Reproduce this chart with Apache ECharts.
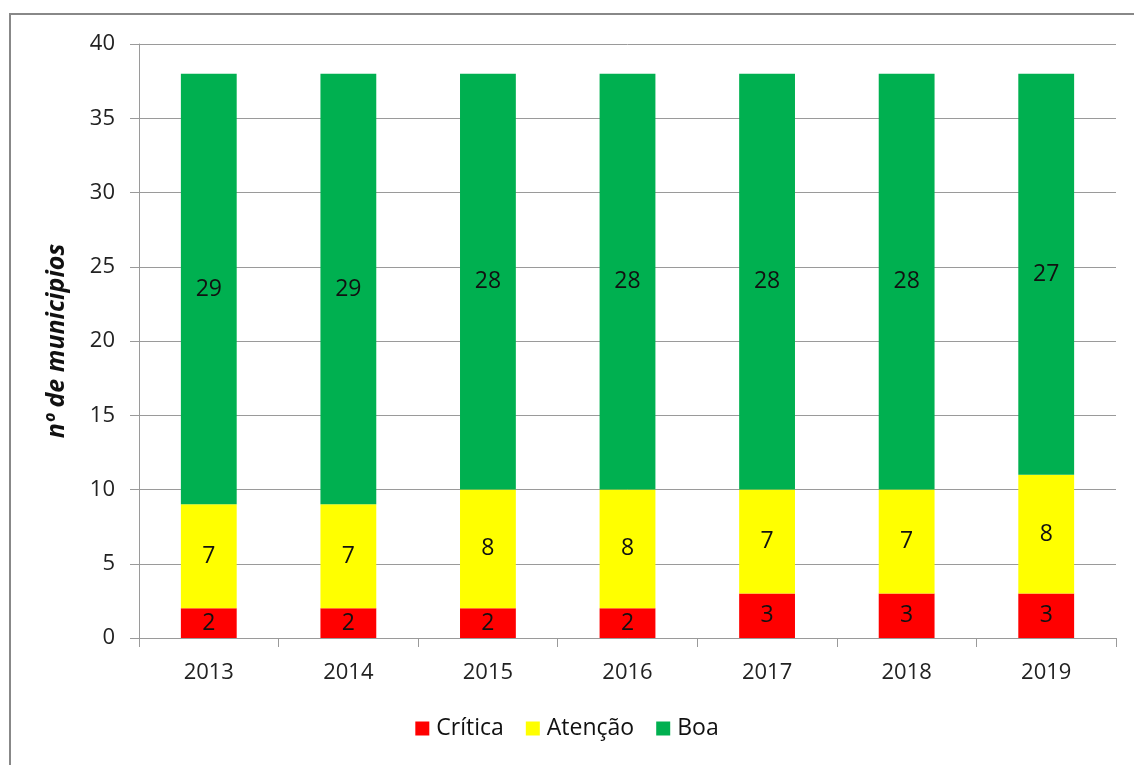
<!DOCTYPE html>
<html>
<head>
<meta charset="utf-8">
<script src="https://cdn.jsdelivr.net/npm/echarts@6/dist/echarts.min.js"></script>
<style>
  html, body { margin: 0; padding: 0; background: #fff; }
  #chart { width: 1134px; height: 765px; }
</style>
</head>
<body>
<div id="chart"></div>
<script>
var anos = ['2013', '2014', '2015', '2016', '2017', '2018', '2019'];
var critica = [2, 2, 2, 2, 3, 3, 3];
var atencao = [7, 7, 8, 8, 7, 7, 8];
var boa = [29, 29, 28, 28, 28, 28, 27];
var yTicks = [0, 5, 10, 15, 20, 25, 30, 35, 40];

var fonte = 'Open Sans';
var myChart = echarts.init(document.getElementById('chart'));

function serie(nome, dados, cor) {
    return {
        name: nome,
        type: 'bar',
        stack: 'total',
        barWidth: '40%',
        data: dados,
        itemStyle: { color: cor },
        label: {
            show: true,
            position: 'inside',
            color: '#111',
            fontSize: 23,
            fontFamily: fonte
        }
    };
}

var option = {
    animation: false,
    graphic: [{
        type: 'rect',
        shape: { x: 10, y: 14, width: 1140, height: 770 },
        style: { fill: 'none', stroke: '#888', lineWidth: 2 },
        silent: true
    }],
    grid: { left: 139, right: 18, top: 44, bottom: 127 },
    legend: {
        bottom: 20,
        left: 'center',
        itemWidth: 14,
        itemHeight: 14,
        itemGap: 22,
        icon: 'rect',
        textStyle: { fontSize: 23, fontFamily: fonte, color: '#111', padding: [0, 0, 0, 2] },
        data: ['Crítica', 'Atenção', 'Boa']
    },
    xAxis: {
        type: 'category',
        data: anos,
        axisLine: { lineStyle: { color: '#9a9a9a', width: 1 } },
        axisTick: { show: true, length: 9, lineStyle: { color: '#9a9a9a' } },
        axisLabel: { fontSize: 22, fontFamily: fonte, color: '#222', margin: 24 }
    },
    yAxis: {
        type: 'value',
        min: yTicks[0],
        max: yTicks[yTicks.length - 1],
        interval: 5,
        name: 'nº de municipios',
        nameLocation: 'middle',
        nameGap: 70,
        nameTextStyle: { fontSize: 25, fontWeight: 'bold', fontStyle: 'italic', fontFamily: fonte, color: '#111' },
        axisLine: { show: true, lineStyle: { color: '#9a9a9a', width: 1 } },
        axisTick: { show: true, length: 9, lineStyle: { color: '#9a9a9a' } },
        axisLabel: { fontSize: 22, fontFamily: fonte, color: '#222', margin: 24 },
        splitLine: { lineStyle: { color: '#9a9a9a', width: 1 } }
    },
    series: [
        serie('Crítica', critica, '#ff0000'),
        serie('Atenção', atencao, '#ffff00'),
        serie('Boa', boa, '#00b050')
    ]
};
myChart.setOption(option);
</script>
</body>
</html>
